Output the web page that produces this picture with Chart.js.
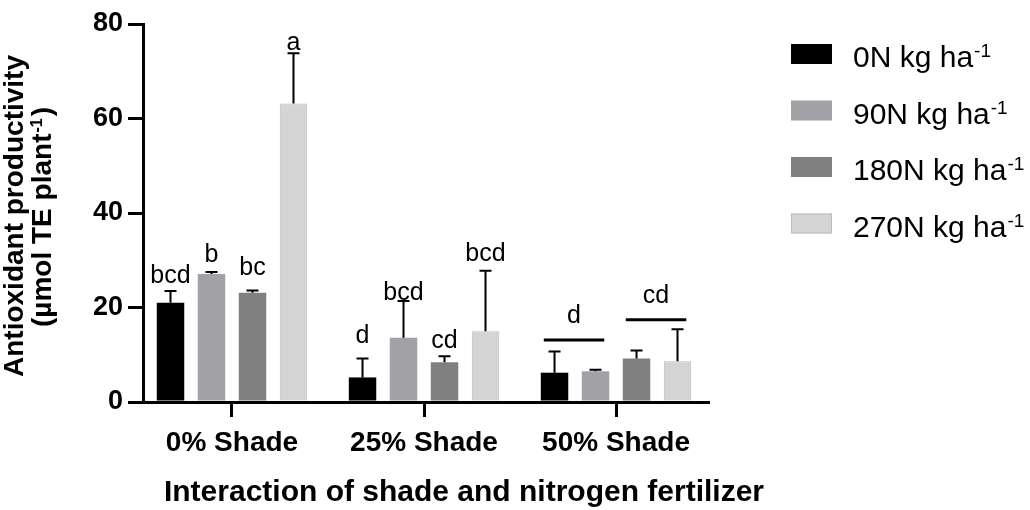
<!DOCTYPE html>
<html>
<head>
<meta charset="utf-8">
<script src="https://cdn.jsdelivr.net/npm/chart.js@4.4.1/dist/chart.umd.min.js"></script>
<style>
  html, body { margin: 0; padding: 0; background: #fff; }
  #wrap { width: 1030px; height: 510px; }
</style>
</head>
<body>
<div id="wrap"><canvas id="chart"></canvas></div>
<script>
const categories = ['0% Shade', '25% Shade', '50% Shade'];
const seriesNames = ['0N kg ha', '90N kg ha', '180N kg ha', '270N kg ha'];
const seriesColors = ['#000000', '#a2a2a6', '#808080', '#d4d4d4'];

const mean0N = [21.0, 5.2, 6.2];
const mean90N = [27.1, 13.6, 6.5];
const mean180N = [23.1, 8.4, 9.2];
const mean270N = [63.2, 15.0, 8.6];

const sd0N = [2.5, 4.0, 4.5];
const sd90N = [0.4, 7.8, 0.3];
const sd180N = [0.5, 1.3, 1.7];
const sd270N = [10.6, 12.8, 6.8];

// significance letters and the value they sit on
const letters0N = ['bcd', 'd', ''];
const letters90N = ['b', 'bcd', ''];
const letters180N = ['bc', 'cd', ''];
const letters270N = ['a', 'bcd', ''];
const letterAt0N = [25.2, 12.5, null];
const letterAt90N = [29.6, 21.6, null];
const letterAt180N = [26.9, 11.4, null];
const letterAt270N = [74.5, 29.8, null];

// 50% shade: one letter over a pair of bars, with a line under it
const sharedGroup = 2;
const sharedLetters = ['d', 'cd'];
const sharedBars = [[0, 1], [2, 3]];
const sharedLineAt = [13.1, 17.4];
const sharedTextAt = [16.7, 21.0];

const means = [mean0N, mean90N, mean180N, mean270N];
const sds = [sd0N, sd90N, sd180N, sd270N];
const letters = [letters0N, letters90N, letters180N, letters270N];
const letterAt = [letterAt0N, letterAt90N, letterAt180N, letterAt270N];

const FONT = 'Arial, "Liberation Sans", Helvetica, sans-serif';

// text followed by a small raised "-1" (alphabetic baseline)
function textSup(ctx, text, x, y, size, bold, supSize, raise) {
    const w = bold ? 'bold ' : '';
    ctx.font = w + size + 'px ' + FONT;
    ctx.fillText(text, x, y);
    const tw = ctx.measureText(text).width;
    ctx.font = w + supSize + 'px ' + FONT;
    ctx.fillText('-1', x + tw + 1, y - raise);
    return tw + 1 + ctx.measureText('-1').width;
}

function supWidth(ctx, text, size, bold, supSize) {
    const w = bold ? 'bold ' : '';
    ctx.font = w + size + 'px ' + FONT;
    const a = ctx.measureText(text).width;
    ctx.font = w + supSize + 'px ' + FONT;
    return a + 1 + ctx.measureText('-1').width;
}

const extras = {
    id: 'extras',
    afterDatasetsDraw(chart) {
        const ctx = chart.ctx;
        const y = chart.scales.y;
        ctx.save();
        ctx.strokeStyle = '#000';
        ctx.fillStyle = '#000';

        // error bars (upper only)
        ctx.lineWidth = 2;
        means.forEach((m, i) => {
            const meta = chart.getDatasetMeta(i);
            meta.data.forEach((bar, j) => {
                const top = y.getPixelForValue(m[j] + sds[i][j]);
                ctx.beginPath();
                ctx.moveTo(bar.x, bar.y);
                ctx.lineTo(bar.x, top);
                ctx.moveTo(bar.x - 6, top);
                ctx.lineTo(bar.x + 6, top);
                ctx.stroke();
            });
        });

        // letters
        ctx.font = '25px ' + FONT;
        ctx.textAlign = 'center';
        ctx.textBaseline = 'alphabetic';
        letters.forEach((ls, i) => {
            const meta = chart.getDatasetMeta(i);
            ls.forEach((t, j) => {
                if (!t) return;
                ctx.fillText(t, meta.data[j].x, y.getPixelForValue(letterAt[i][j]));
            });
        });

        // shared letters with lines
        ctx.lineWidth = 3;
        sharedLetters.forEach((t, k) => {
            const a = chart.getDatasetMeta(sharedBars[k][0]).data[sharedGroup];
            const b = chart.getDatasetMeta(sharedBars[k][1]).data[sharedGroup];
            const left = a.x - a.width / 2 + 3;
            const right = b.x + b.width / 2 - 5;
            const ly = y.getPixelForValue(sharedLineAt[k]);
            ctx.beginPath();
            ctx.moveTo(left, ly);
            ctx.lineTo(right, ly);
            ctx.stroke();
            ctx.fillText(t, (left + right) / 2, y.getPixelForValue(sharedTextAt[k]));
        });

        // legend
        ctx.textAlign = 'left';
        seriesNames.forEach((name, i) => {
            const by = 44 + i * 56.5;
            ctx.fillStyle = seriesColors[i];
            ctx.fillRect(791, by, 41, 20);
            if (i === 3) {
                ctx.strokeStyle = '#bdbdbd';
                ctx.lineWidth = 1;
                ctx.strokeRect(791.5, by + 0.5, 40, 19);
            }
            ctx.fillStyle = '#000';
            textSup(ctx, name, 853, by + 23, 30, false, 19, 10);
        });

        // y title
        ctx.save();
        ctx.translate(23, 216);
        ctx.rotate(-Math.PI / 2);
        ctx.textAlign = 'center';
        ctx.font = 'bold 28px ' + FONT;
        ctx.fillText('Antioxidant productivity', 0, 0);
        ctx.restore();

        ctx.save();
        ctx.translate(51, 218);
        ctx.rotate(-Math.PI / 2);
        ctx.textAlign = 'left';
        const part1 = '(\u00b5mol TE plant';
        const w1 = supWidth(ctx, part1, 28, true, 16);
        ctx.font = 'bold 28px ' + FONT;
        const w2 = ctx.measureText(')').width;
        const x0 = -(w1 + w2) / 2;
        textSup(ctx, part1, x0, 0, 28, true, 16, 9);
        ctx.font = 'bold 28px ' + FONT;
        ctx.fillText(')', x0 + w1 + 2, 0);
        ctx.restore();

        // x title
        ctx.textAlign = 'center';
        ctx.font = 'bold 30px ' + FONT;
        ctx.fillText('Interaction of shade and nitrogen fertilizer', 464, 501);

        ctx.restore();
    }
};

const axisGrid = { drawOnChartArea: false, drawTicks: true, tickLength: 15, lineWidth: 3, color: '#000', offset: false };
const axisBorder = { display: true, width: 3, color: '#000' };

new Chart(document.getElementById('chart'), {
    type: 'bar',
    data: {
        datasets: means.map((m, i) => ({
            label: seriesNames[i],
            data: m.map((v, j) => ({ x: j, y: v })),
            backgroundColor: seriesColors[i],
            borderColor: i === 3 ? '#bdbdbd' : seriesColors[i],
            borderWidth: i === 3 ? 1 : 0,
            barPercentage: 0.67,
            categoryPercentage: 0.854
        }))
    },
    options: {
        responsive: true,
        maintainAspectRatio: false,
        animation: false,
        layout: { padding: { top: 24, right: 322, left: 0, bottom: 0 } },
        plugins: { legend: { display: false }, tooltip: { enabled: false } },
        scales: {
            x: {
                type: 'linear',
                offset: false,
                min: -0.4635,
                max: 2.479,
                afterBuildTicks: s => { s.ticks = categories.map((c, i) => ({ value: i })); },
                afterFit: s => { s.height = 108; },
                ticks: {
                    callback: v => categories[v],
                    font: { size: 28, weight: 'bold', family: FONT },
                    color: '#000',
                    padding: 9,
                    maxRotation: 0,
                    autoSkip: false
                },
                grid: axisGrid,
                border: axisBorder
            },
            y: {
                min: 0,
                max: 80,
                afterFit: s => { s.width = 143; },
                ticks: {
                    stepSize: 20,
                    font: { size: 27, weight: 'bold', family: FONT },
                    color: '#000',
                    padding: 5
                },
                grid: axisGrid,
                border: axisBorder
            }
        }
    },
    plugins: [extras]
});
</script>
</body>
</html>
